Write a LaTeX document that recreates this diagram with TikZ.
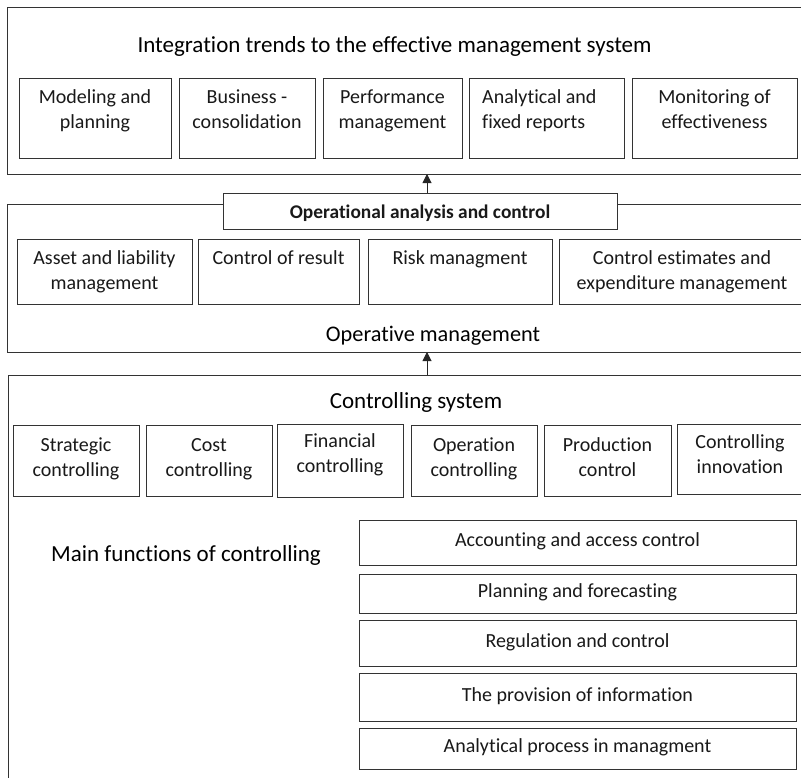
\documentclass[tikz,border=0pt]{standalone}
\usepackage{fontspec}
\setmainfont{Carlito}[Ligatures=NoCommon]
\usetikzlibrary{arrows.meta}

% two-line cell text whose baseline is that of the first line
\newcommand{\twol}[3][c]{\begin{tabular}[t]{@{}#1@{}}#2\\#3\end{tabular}}

\tikzset{
  frame/.style={draw=black!80, line width=1pt, fill=white, inner sep=0pt, outer sep=0pt,
                anchor=north west, rectangle},
  lbl/.style={anchor=base, inner sep=0pt, text=black!90,
              font=\fontsize{20}{25}\selectfont},
  head/.style={anchor=base, inner sep=0pt, text=black,
               font=\fontsize{23}{28}\selectfont},
  up/.style={draw=black!85, line width=1pt, -{Triangle[width=9pt,length=9pt]}}
}

% box given by its corners: (x1,y1) to (x2,y2), y measured downwards
\newcommand{\cell}[5]{\node[frame, minimum width=#4pt-#2pt, minimum height=#5pt-#3pt] (#1) at (#2,#3) {};}

\begin{document}
\begin{tikzpicture}[x=1pt,y=-1pt]
\useasboundingbox (0,0) rectangle (801,777);
\clip (0,0) rectangle (801,777);

% ---- integration trends ----
\cell{top}{7}{7}{812}{174}
\node[head] (toptitle) at (394.5,52.7) {Integration trends to the effective management system};
\cell{t1}{19}{78}{171}{158}
\cell{t2}{179}{78}{315}{158}
\cell{t3}{323}{78}{462}{158}
\cell{t4}{469}{78}{624}{158}
\cell{t5}{632}{78}{797}{158}
\node[lbl] (t1l) at ([yshift=-25pt]t1.north) {\twol{Modeling and}{planning}};
\node[lbl] (t2l) at ([yshift=-25pt]t2.north) {\twol{Business -}{consolidation}};
\node[lbl] (t3l) at ([yshift=-25pt]t3.north) {\twol{Performance}{management}};
\node[lbl, anchor=base west] (t4l) at ([xshift=13pt,yshift=-25pt]t4.north west) {\twol[l]{Analytical and}{fixed reports}};
\node[lbl] (t5l) at ([yshift=-25pt]t5.north) {\twol{Monitoring of}{effectiveness}};

% ---- operative management ----
\cell{mid}{7}{204}{812}{352}
\cell{opa}{223}{193}{617}{229}
\node[lbl, font=\fontsize{19.4}{23}\selectfont\bfseries] (opal) at (420,218.3) {Operational analysis and control};
\cell{m1}{17}{239}{192}{304}
\cell{m2}{198}{239}{359}{304}
\cell{m3}{368}{239}{552}{304}
\cell{m4}{559}{239}{805}{304}
\node[lbl] (m1l) at ([yshift=-25pt]m1.north) {\twol{Asset and liability}{management}};
\node[lbl] (m2l) at ([yshift=-25pt]m2.north) {Control of result};
\node[lbl] (m3l) at ([yshift=-25pt]m3.north) {Risk managment};
\node[lbl] (m4l) at ([yshift=-25pt]m4.north) {\twol{Control estimates and}{expenditure management}};
\node[head, font=\fontsize{22.3}{27}\selectfont] (midtitle) at (433,341.7) {Operative management};

% ---- controlling system ----
\cell{ctl}{8}{375}{812}{800}
\node[head] (ctltitle) at (416,408) {Controlling system};
\cell{c1}{13}{425}{139}{496}
\cell{c2}{146}{425}{272}{496}
\cell{c3}{277}{424}{403}{497}
\cell{c4}{411}{425}{537}{496}
\cell{c5}{544}{425}{671}{496}
\cell{c6}{677}{424}{803}{494}
\node[lbl] (c1l) at ([yshift=-26pt]c1.north) {\twol{Strategic}{controlling}};
\node[lbl] (c2l) at ([yshift=-26pt]c2.north) {\twol{Cost}{controlling}};
\node[lbl] (c3l) at ([yshift=-23pt]c3.north) {\twol{Financial}{controlling}};
\node[lbl] (c4l) at ([yshift=-26pt]c4.north) {\twol{Operation}{controlling}};
\node[lbl] (c5l) at ([yshift=-26pt]c5.north) {\twol{Production}{control}};
\node[lbl] (c6l) at ([yshift=-24pt]c6.north) {\twol{Controlling}{innovation}};

% ---- main functions ----
\node[head, anchor=base west] (mainf) at (51,561) {Main functions of controlling};
\cell{r1}{359}{520}{796}{565}
\cell{r2}{359}{574}{796}{613}
\cell{r3}{359}{620}{796}{666}
\cell{r4}{359}{673}{796}{721}
\cell{r5}{359}{728}{796}{769}
\node[lbl, anchor=center] (r1l) at ([yshift=1pt]r1.center) {Accounting and access control};
\node[lbl, anchor=center] (r2l) at ([yshift=1pt]r2.center) {Planning and forecasting};
\node[lbl, anchor=center] (r3l) at ([yshift=1pt]r3.center) {Regulation and control};
\node[lbl, anchor=center] (r4l) at ([yshift=1pt]r4.center) {The provision of information};
\node[lbl, anchor=center] (r5l) at ([yshift=1pt]r5.center) {Analytical process in managment};

% ---- upward links ----
\coordinate (ax) at (427,0);
\draw[up] (ax |- opa.north) -- (ax |- top.south);
\draw[up] (ax |- ctl.north) -- (ax |- mid.south);
\end{tikzpicture}
\end{document}
